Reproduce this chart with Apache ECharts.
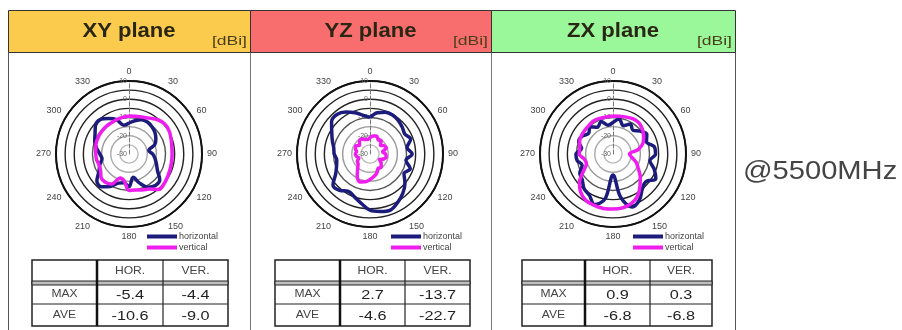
<!DOCTYPE html>
<html>
<head>
<meta charset="utf-8">
<script src="https://cdn.jsdelivr.net/npm/echarts@6/dist/echarts.min.js"></script>
<style>
  html, body { margin: 0; padding: 0; background: #fff; }
  #chart { width: 902px; height: 330px; }
</style>
</head>
<body>
<div id="chart"></div>
<script>
// Measurement angles (degrees) shared by every pattern
const angles = [0, 10, 20, 30, 40, 50, 60, 70, 80, 90, 100, 110,
                120, 130, 140, 150, 160, 170, 180, 190, 200, 210, 220, 230,
                240, 250, 260, 270, 280, 290, 300, 310, 320, 330, 340, 350];

// Gain in dBi, horizontal / vertical polarisation, per plane
const xyHor = [-13, -11.5, -10, -9.8, -10.5, -11.5, -13, -15, -19, -17, -15.5, -14,
               -12, -8, -7.5, -9, -13, -17, -12, -14, -13, -9.5, -6.5, -7,
               -11, -13, -15, -14, -12, -10, -8.5, -6, -5.4, -7.5, -10, -14];
const xyVer = [-9.2, -9, -8.5, -7.3, -5.5, -4.4, -4.6, -5.5, -6.2, -6.4, -6.3, -6,
               -5.5, -4.8, -4.6, -7.8, -9, -10, -10, -15, -16, -11, -9.8, -10,
               -12, -12.5, -12, -11.8, -11.5, -11, -10.8, -10.6, -10.4, -10.4, -10, -9.6];
const yzHor = [-10, -7, -5.6, -5.3, -6, -7, -8, -6.3, -9.4, -6.9, -10, -6.5,
               -8.5, -5, -2, 0.5, 2.7, 2, 0.8, -2.5, -5, -6.4, -4, -3.5,
               -8.3, -10.5, -11.5, -10.4, -9.8, -8, -5.8, -2.5, -1.8, -3.5, -6, -8.5];
const yzVer = [-21, -20, -19.5, -21, -20.5, -22.5, -21, -20.5, -23, -21.5, -21, -22,
               -24, -22, -20.5, -21, -19, -17.5, -16, -14.5, -13.7, -16, -19.5, -21.5,
               -22, -23.5, -22.5, -22, -22.5, -21.5, -21, -22.5, -21, -20.5, -21.5, -22];
const zxHor = [-12.7, -10.5, -13.5, -11, -13, -10.5, -8.6, -10.5, -7, -6.7, -9.5, -6,
               -2.9, -6.5, -5, -1, 0.9, -6, -18.5, -5, -0.5, -4, -5.3, -8,
               -9, -12, -10, -9.7, -12.5, -10, -10.5, -12.5, -10.5, -13, -11, -14];
const zxVer = [-9.2, -9, -8.5, -7.8, -7.8, -9, -10.6, -12.5, -16, -21, -19.5, -16.5,
               -14, -10.5, -7, -3.2, -1, 0, 0.2, 0.3, 0, -0.5, -2.5, -6,
               -11.3, -14.5, -14, -11.5, -11.5, -10.5, -10, -9.8, -9.5, -9, -9.2, -9.4];

// Summary table values (dBi)
const planeTitles = ['XY plane', 'YZ plane', 'ZX plane'];
const maxHor = [-5.4, 2.7, 0.9];
const maxVer = [-4.4, -13.7, 0.3];
const aveHor = [-10.6, -4.6, -6.8];
const aveVer = [-9.0, -22.7, -6.8];
const tableHead = ['HOR.', 'VER.'];
const rowNames = ['MAX', 'AVE'];
const seriesNames = ['horizontal', 'vertical'];
const unitLabel = '[dBi]';
const freqLabel = '@5500MHz';

const FONT = '"Liberation Sans", Arial, sans-serif';
const HOR_COLOR = '#1c1c7c';
const VER_COLOR = '#ee1eee';

const panelX = [8, 250, 491];
const panelW = [242, 241, 244];
const headColors = ['#fbcb4e', '#f86e6e', '#9af79a'];
const centers = [[129, 154], [370, 154], [613, 154]];
const legendX = [147, 391, 633];
const tableCols = [[32, 97, 163, 228], [275, 340, 405, 470], [522, 585, 650, 712]];
const tableRows = [260, 281, 285, 304, 326];

const patterns = [[xyHor, xyVer], [yzHor, yzVer], [zxHor, zxVer]];

function toPolar(vals) {
  const pts = angles.map((a, i) => [vals[i], a]);
  pts.push([vals[0], 360]);
  return pts;
}

const polar = [], angleAxis = [], radiusAxis = [], series = [], legend = [];
for (let p = 0; p < 3; p++) {
  polar.push({ center: centers[p], radius: 73 });
  angleAxis.push({
    polarIndex: p, type: 'value', min: 0, max: 360, interval: 30,
    startAngle: 90, clockwise: true,
    axisLine: { lineStyle: { color: '#111', width: 2 } },
    axisTick: { show: false },
    axisLabel: { formatter: v => (v === 360 ? '' : String(v)), fontSize: 9, color: '#444', margin: 5, fontFamily: FONT },
    splitLine: { show: false }
  });
  radiusAxis.push({
    polarIndex: p, type: 'value', min: -30, max: 10, interval: 5,
    axisLine: { show: true, lineStyle: { color: '#777', type: 'dashed', width: 1 } },
    axisTick: { show: false },
    axisLabel: { formatter: v => (v % 10 === 0 ? String(v) : ''), fontSize: 7, color: '#666', margin: 2, fontFamily: FONT },
    splitLine: { show: true, lineStyle: { color: ['#bbb', '#bbb', '#aaa', '#999', '#555', '#222', '#222', '#222', '#111'], width: 1.4 } }
  });
  patterns[p].forEach((vals, k) => {
    series.push({
      name: seriesNames[k], type: 'line', coordinateSystem: 'polar', polarIndex: p,
      data: toPolar(vals), showSymbol: false, symbol: 'none', smooth: 0.35,
      lineStyle: { width: 3.5, color: k === 0 ? HOR_COLOR : VER_COLOR },
      itemStyle: { color: k === 0 ? HOR_COLOR : VER_COLOR },
      z: k === 0 ? 3 : 4, silent: true, animation: false
    });
  });
  legend.push({
    left: legendX[p], top: 232, orient: 'vertical', padding: 0,
    itemWidth: 30, itemHeight: 4, itemGap: 2, icon: 'rect', selectedMode: false,
    data: seriesNames,
    textStyle: { fontSize: 9, color: '#444', fontFamily: FONT, padding: [0, 0, 0, -3] }
  });
}

// Frame, headers and summary tables
const graphic = [];
graphic.push({ type: 'rect', shape: { x: 8.5, y: 52.5, width: 727, height: 300 }, style: { fill: 'none', stroke: '#555', lineWidth: 1 } });
[250, 491].forEach(x => graphic.push({ type: 'line', shape: { x1: x + 0.5, y1: 52, x2: x + 0.5, y2: 330 }, style: { stroke: '#777', lineWidth: 1 } }));

const txt = (s, x, y, font, color, align, sx) => graphic.push({ type: 'text', x, y, scaleX: sx || 1,
  style: { text: s, font, fill: color, align: align || 'center', verticalAlign: 'middle', textAlign: align || 'center', textVerticalAlign: 'middle' } });

for (let p = 0; p < 3; p++) {
  graphic.push({ type: 'rect', shape: { x: panelX[p] + 0.5, y: 10.5, width: panelW[p], height: 42 }, style: { fill: headColors[p], stroke: '#333', lineWidth: 1 } });
  txt(planeTitles[p], panelX[p] + panelW[p] / 2, 31, 'bold 21px ' + FONT, '#2a2614', 'center', 1.05);
  txt(unitLabel, panelX[p] + panelW[p] - 3, 41, '13px ' + FONT, '#4a3f18', 'right', 1.35);

  const c = tableCols[p], r = tableRows;
  const tw = c[3] - c[0];
  graphic.push({ type: 'rect', shape: { x: c[0], y: r[0], width: tw, height: r[4] - r[0] }, style: { fill: '#fff', stroke: '#222', lineWidth: 1.5 } });
  graphic.push({ type: 'rect', shape: { x: c[0], y: r[1], width: tw, height: r[2] - r[1] }, style: { fill: '#bdbdbd', stroke: '#222', lineWidth: 1 } });
  graphic.push({ type: 'line', shape: { x1: c[0], y1: r[3], x2: c[3], y2: r[3] }, style: { stroke: '#222', lineWidth: 1.2 } });
  graphic.push({ type: 'line', shape: { x1: c[1], y1: r[0], x2: c[1], y2: r[4] }, style: { stroke: '#111', lineWidth: 2.5 } });
  graphic.push({ type: 'line', shape: { x1: c[2], y1: r[0], x2: c[2], y2: r[4] }, style: { stroke: '#222', lineWidth: 1.2 } });

  const mid = (a, b) => (a + b) / 2;
  const small = '10.5px ' + FONT, big = '13px ' + FONT;
  txt(tableHead[0], mid(c[1], c[2]), mid(r[0], r[1]) + 1, small, '#444', 'center', 1.15);
  txt(tableHead[1], mid(c[2], c[3]), mid(r[0], r[1]) + 1, small, '#444', 'center', 1.15);
  txt(rowNames[0], mid(c[0], c[1]), mid(r[2], r[3]), small, '#444', 'center', 1.15);
  txt(rowNames[1], mid(c[0], c[1]), mid(r[3], r[4]), small, '#444', 'center', 1.15);
  txt(maxHor[p].toFixed(1), mid(c[1], c[2]), mid(r[2], r[3]) + 1, big, '#222', 'center', 1.25);
  txt(maxVer[p].toFixed(1), mid(c[2], c[3]), mid(r[2], r[3]) + 1, big, '#222', 'center', 1.25);
  txt(aveHor[p].toFixed(1), mid(c[1], c[2]), mid(r[3], r[4]) + 1, big, '#222', 'center', 1.25);
  txt(aveVer[p].toFixed(1), mid(c[2], c[3]), mid(r[3], r[4]) + 1, big, '#222', 'center', 1.25);
}

txt(freqLabel, 743, 172, '26px ' + FONT, '#444', 'left', 1.12);

const chart = echarts.init(document.getElementById('chart'), null, { renderer: 'canvas' });
chart.setOption({
  animation: false,
  backgroundColor: '#fff',
  polar, angleAxis, radiusAxis, legend, series, graphic
});
</script>
</body>
</html>
